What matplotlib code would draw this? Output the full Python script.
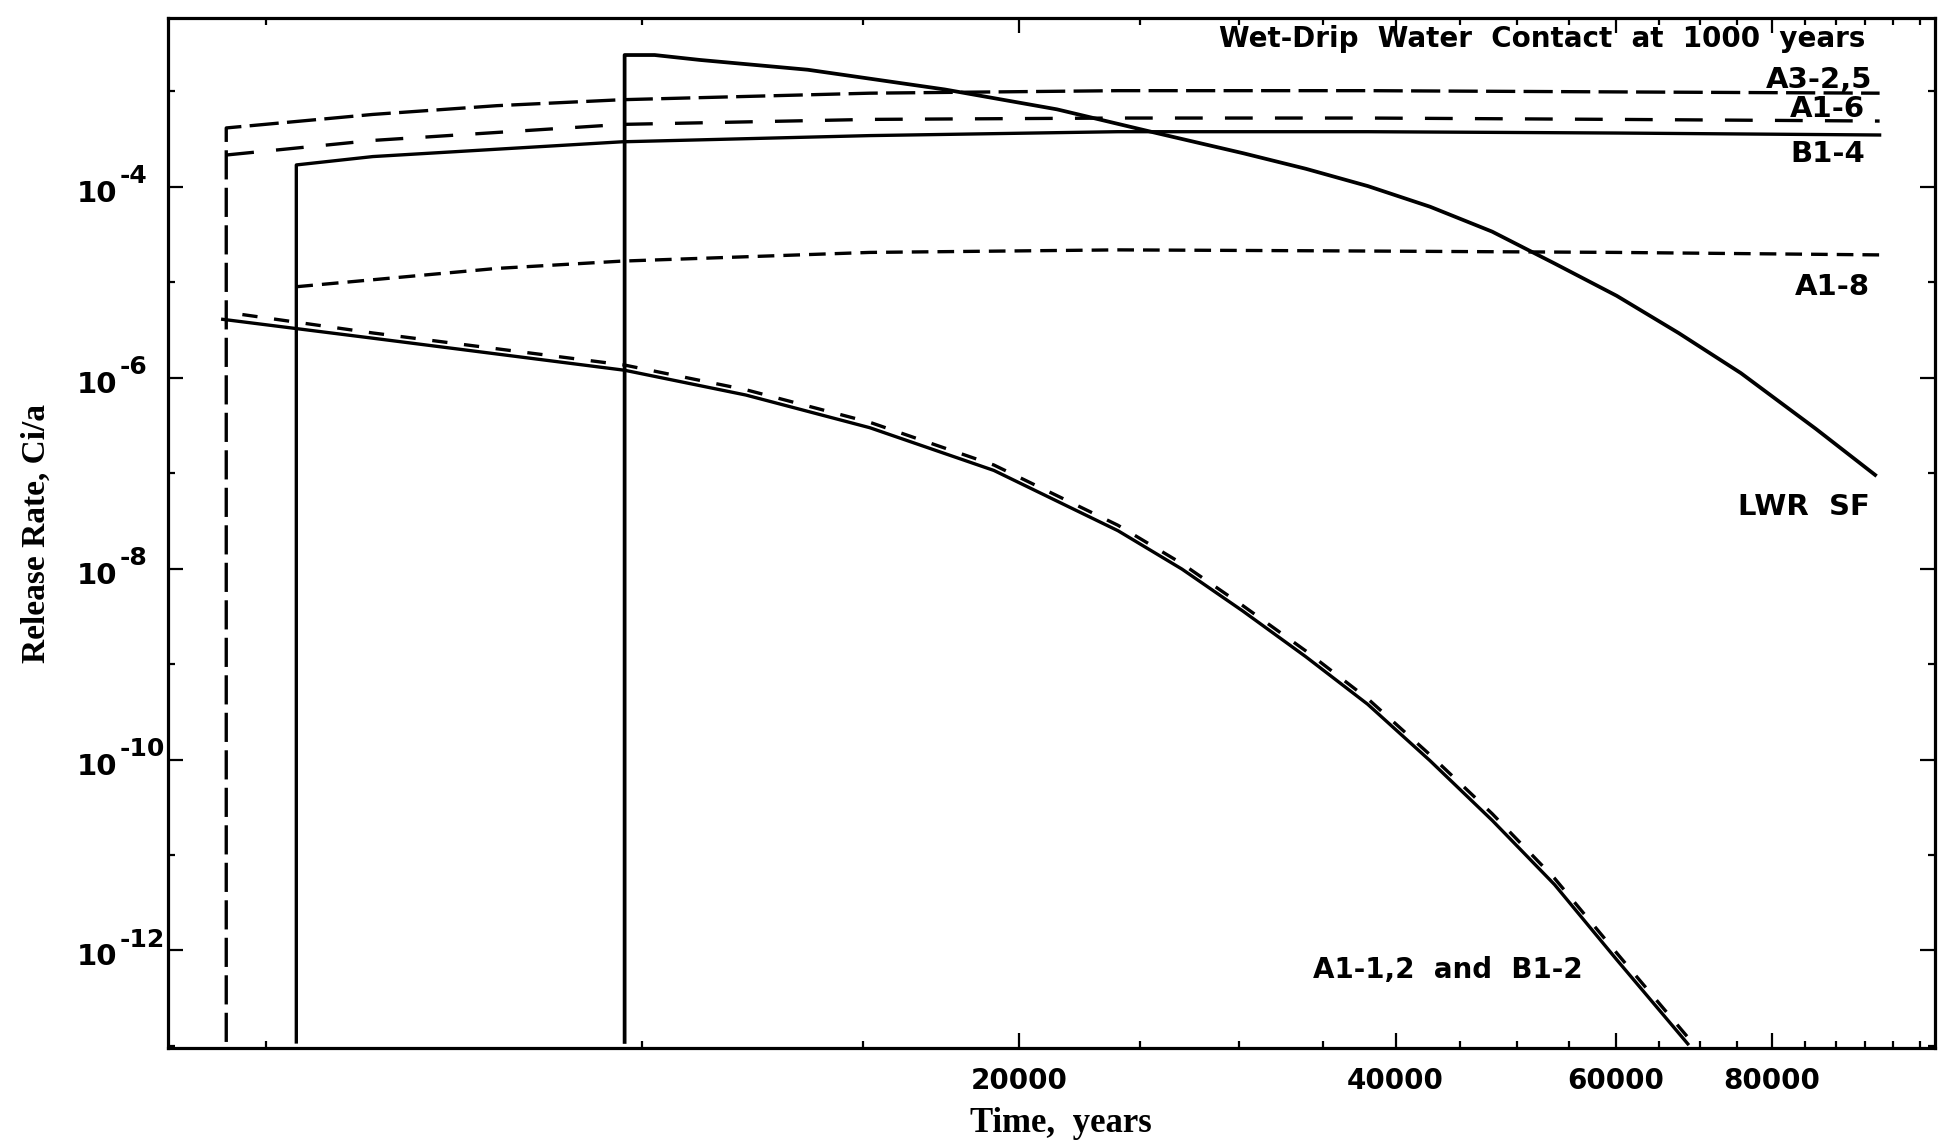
import numpy as np
import matplotlib
matplotlib.use("Agg")
import matplotlib.pyplot as plt
from matplotlib.ticker import FixedLocator, FuncFormatter, NullFormatter
from matplotlib.transforms import blended_transform_factory, offset_copy

# --------------------------------------------------
# Values: time (years) vs release rate (Ci/a)
# --------------------------------------------------
a3_t = [4650, 4650, 6090, 7650, 9630, 15200, 24000, 38000, 60100, 97500]
a3_rate = [1.1e-13, 4.15e-4, 5.75e-4, 7.1e-4, 8.2e-4, 9.6e-4, 1.02e-3, 1.02e-3, 9.9e-4, 9.6e-4]

a16_t = [4650, 6090, 9630, 15200, 24000, 38000, 60100, 97500]
a16_rate = [2.16e-4, 3.07e-4, 4.52e-4, 5.1e-4, 5.27e-4, 5.27e-4, 5.1e-4, 4.9e-4]

b14_t = [5290, 5290, 6090, 9630, 15200, 24000, 38000, 60100, 97500]
b14_rate = [1.1e-13, 1.70e-4, 2.08e-4, 2.97e-4, 3.45e-4, 3.79e-4, 3.79e-4, 3.67e-4, 3.5e-4]

a18_t = [5290, 7650, 9630, 15200, 24000, 38000, 60100, 97500]
a18_rate = [9.0e-6, 1.40e-5, 1.67e-5, 2.06e-5, 2.19e-5, 2.13e-5, 2.06e-5, 1.94e-5]

lwr_t = [9680, 9680, 10230, 11120, 13560, 17450, 21450, 25760, 30240, 33910,
         38020, 42630, 47790, 53590, 60100, 67370, 75530, 86700, 96700]
lwr_rate = [1.1e-13, 2.41e-3, 2.41e-3, 2.14e-3, 1.69e-3, 1.05e-3, 6.5e-4, 3.67e-4, 2.25e-4, 1.55e-4,
            1.02e-4, 6.2e-5, 3.4e-5, 1.58e-5, 7.23e-6, 2.94e-6, 1.12e-6, 2.92e-7, 9.6e-8]

a112_t = [4620, 6090, 9680, 12100, 15200, 19100, 24000, 27000, 30200, 33900,
          38000, 42600, 47800, 53600, 60100, 68500]
a112_rate = [4.1e-6, 2.6e-6, 1.2e-6, 6.6e-7, 3.0e-7, 1.07e-7, 2.5e-8, 9.9e-9, 3.6e-9, 1.2e-9,
             3.8e-10, 9.8e-11, 2.3e-11, 4.9e-12, 8.0e-13, 1.05e-13]

b12_t = [4790, 6090, 9680, 12100, 15200, 19100, 24000, 27000, 30200, 33900,
         38000, 42600, 47800, 53600, 60100, 68800]
b12_rate = [4.6e-6, 2.95e-6, 1.36e-6, 7.5e-7, 3.42e-7, 1.22e-7, 2.85e-8, 1.13e-8, 4.1e-9, 1.38e-9,
            4.35e-10, 1.13e-10, 2.7e-11, 5.7e-12, 9.4e-13, 1.15e-13]

x_major = [20000, 40000, 60000, 80000]
x_minor = [5000, 10000, 15000, 25000, 30000, 35000, 45000, 50000, 55000,
           65000, 70000, 75000, 85000, 90000, 95000, 100000, 105000]
y_major = [1e-4, 1e-6, 1e-8, 1e-10, 1e-12]
y_minor = [1e-3, 1e-5, 1e-7, 1e-9, 1e-11, 1e-13]

title_text = "Wet-Drip  Water  Contact  at  1000  years"
curve_labels = ["A3-2,5", "A1-6", "B1-4", "A1-8", "LWR  SF", "A1-1,2  and  B1-2"]

# --------------------------------------------------
# Style
# --------------------------------------------------
plt.rcParams["font.family"] = ["DejaVu Sans"]
plt.rcParams["font.weight"] = "bold"
plt.rcParams["lines.scale_dashes"] = False

fig = plt.figure(figsize=(19.5, 11.43), dpi=100)
ax = fig.add_axes([0.0862, 0.0831, 0.9062, 0.9011])
ax.set_xscale("log")
ax.set_yscale("log")

lw = 2.4
ax.plot(a3_t, a3_rate, color="black", lw=lw, linestyle=(0, (21, 6)))
ax.plot(a16_t, a16_rate, color="black", lw=lw, linestyle=(0, (20, 16)))
ax.plot(b14_t, b14_rate, color="black", lw=lw)
ax.plot(a18_t, a18_rate, color="black", lw=lw, linestyle=(0, (12, 6.5)))
ax.plot(lwr_t, lwr_rate, color="black", lw=2.7)
ax.plot(b12_t, b12_rate, color="black", lw=lw, linestyle=(0, (11, 12)))
ax.plot(a112_t, a112_rate, color="black", lw=lw)

ax.set_xlim(4178, 108000)
ax.set_ylim(9.5e-14, 5.88e-3)

# --------------------------------------------------
# Ticks
# --------------------------------------------------
ax.xaxis.set_major_locator(FixedLocator(x_major))
ax.xaxis.set_minor_locator(FixedLocator(x_minor))
ax.xaxis.set_major_formatter(FuncFormatter(lambda v, p: "%d" % v))
ax.xaxis.set_minor_formatter(NullFormatter())

ax.yaxis.set_major_locator(FixedLocator(y_major))
ax.yaxis.set_minor_locator(FixedLocator(y_minor))
ax.yaxis.set_major_formatter(NullFormatter())
ax.yaxis.set_minor_formatter(NullFormatter())

ax.tick_params(which="both", direction="in", top=True, right=True, width=1.6, labelsize=20)
ax.tick_params(which="major", length=11)
ax.tick_params(which="minor", length=5)
ax.tick_params(axis="x", which="major", pad=14)

# y tick labels as "10" with a large raised exponent, like the original
ytrans = blended_transform_factory(ax.transAxes, ax.transData)
base_tr = offset_copy(ytrans, fig=fig, x=-36.7, y=-10.8, units="points")
exp_tr = offset_copy(ytrans, fig=fig, x=-34.6, y=2.7, units="points")
for v in y_major:
    ax.text(0, v, "10", transform=base_tr, ha="right", va="baseline", fontsize=21)
    ax.text(0, v, "%d" % round(np.log10(v)), transform=exp_tr, ha="left", va="baseline", fontsize=18)

for side in ax.spines.values():
    side.set_linewidth(2.3)

# --------------------------------------------------
# Labels
# --------------------------------------------------
ax.set_xlabel("Time,  years", family="Liberation Serif", fontweight="bold", fontsize=25)
ax.set_ylabel("Release Rate, Ci/a", family="Liberation Serif", fontweight="bold", fontsize=24)
ax.xaxis.set_label_coords(0.505, -0.057)
ax.yaxis.set_label_coords(-0.0656, 0.5)

ax.text(94900, 2.92e-3, title_text, ha="right", va="baseline", fontsize=20)
ax.text(96100, 1.09e-3, curve_labels[0], ha="right", va="baseline", fontsize=21)
ax.text(94900, 5.4e-4, curve_labels[1], ha="right", va="baseline", fontsize=21)
ax.text(94900, 1.83e-4, curve_labels[2], ha="right", va="baseline", fontsize=21)
ax.text(95800, 7.4e-6, curve_labels[3], ha="right", va="baseline", fontsize=21)
ax.text(95800, 3.67e-8, curve_labels[4], ha="right", va="baseline", fontsize=21)
ax.text(56400, 5.2e-13, curve_labels[5], ha="right", va="baseline", fontsize=20)

fig.savefig("out.png", dpi=100)
